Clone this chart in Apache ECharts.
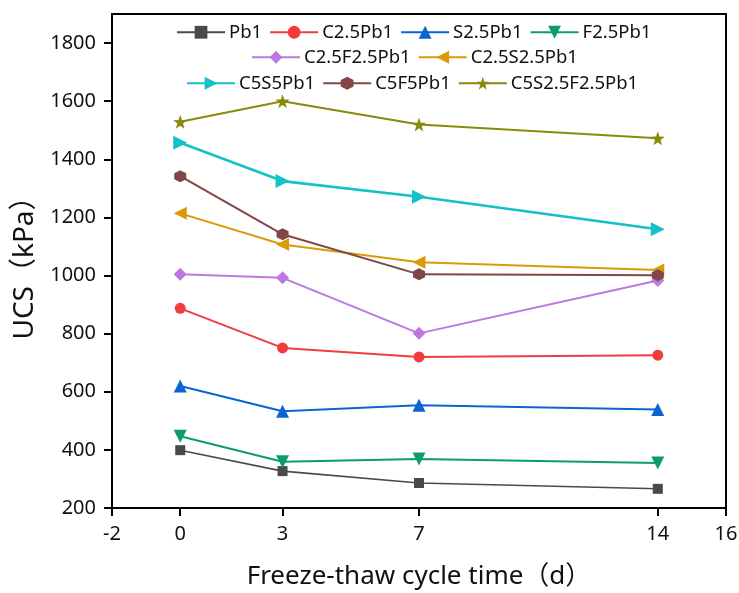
<!DOCTYPE html>
<html>
<head>
<meta charset="utf-8">
<script src="https://cdn.jsdelivr.net/npm/echarts@6/dist/echarts.min.js"></script>
<style>
  html, body { margin: 0; padding: 0; background: #fff; }
  #chart { width: 739px; height: 593px; }
</style>
</head>
<body>
<div id="chart"></div>
<script>
// freeze-thaw days and UCS values (kPa)
const days = [0, 3, 7, 14]
const xTicks = [-2, 0, 3, 7, 14, 16]
const yTicks = [200, 400, 600, 800, 1000, 1200, 1400, 1600, 1800]

const pb1 = [399, 327, 286, 266]
const c25pb1 = [887, 751, 720, 726]
const s25pb1 = [620, 533, 554, 539]
const f25pb1 = [447, 359, 369, 355]
const c25f25pb1 = [1004, 992, 801, 983]
const c25s25pb1 = [1214, 1107, 1046, 1019]
const c5s5pb1 = [1457, 1325, 1271, 1159]
const c5f5pb1 = [1342, 1142, 1004, 1001]
const c5s25f25pb1 = [1529, 1600, 1520, 1472]

const legendRows = [
  ['Pb1', 'C2.5Pb1', 'S2.5Pb1', 'F2.5Pb1'],
  ['C2.5F2.5Pb1', 'C2.5S2.5Pb1'],
  ['C5S5Pb1', 'C5F5Pb1', 'C5S2.5F2.5Pb1'],
]

const FONT = '"Noto Sans", "Noto Sans CJK SC", sans-serif'
const STAR = 'path://M0,-10 L2.35,-3.24 L9.51,-3.09 L3.8,1.24 L5.88,8.09 L0,4 L-5.88,8.09 L-3.8,1.24 L-9.51,-3.09 L-2.35,-3.24 Z'
const HEX = 'path://M0,-10 L8.66,-5 L8.66,5 L0,10 L-8.66,5 L-8.66,-5 Z'

const makeSeries = (name, values, color, symbol, size, rotate = 0, width = 2) => ({
  name,
  type: 'line',
  data: days.map((d, i) => [d, values[i]]),
  symbol,
  symbolSize: size,
  symbolRotate: rotate,
  itemStyle: { color },
  lineStyle: { color, width },
  emphasis: { disabled: true },
})

const series = [
  makeSeries('Pb1', pb1, '#4a4a4a', 'rect', 10, 0, 1.6),
  makeSeries('C2.5Pb1', c25pb1, '#f23c3c', 'circle', 11),
  makeSeries('S2.5Pb1', s25pb1, '#0a64d2', 'triangle', 13),
  makeSeries('F2.5Pb1', f25pb1, '#0c9e69', 'triangle', 13, 180),
  makeSeries('C2.5F2.5Pb1', c25f25pb1, '#bc78e0', 'diamond', 13),
  makeSeries('C2.5S2.5Pb1', c25s25pb1, '#d99b07', 'triangle', 13, 90),
  makeSeries('C5S5Pb1', c5s5pb1, '#12c2c9', 'triangle', 14, -90, 2.6),
  makeSeries('C5F5Pb1', c5f5pb1, '#834646', HEX, 12),
  makeSeries('C5S2.5F2.5Pb1', c5s25f25pb1, '#8a8a0a', STAR, 14),
]

const legendLefts = [176, 251, 186]
const legendTops = [23, 48, 74]

const legend = legendRows.map((row, i) => ({
  data: row,
  left: legendLefts[i],
  top: legendTops[i],
  padding: 0,
  itemGap: 7,
  itemWidth: 48,
  itemHeight: 16,
  selectedMode: false,
  textStyle: { fontFamily: FONT, fontSize: 18.5, color: '#111', padding: [0, 0, 0, -1] },
}))

const chart = echarts.init(document.getElementById('chart'))
chart.setOption({
  animation: false,
  backgroundColor: '#fff',
  legend,
  grid: {
    left: 112, right: 13, top: 14, bottom: 85,
    outerBoundsMode: 'none',
    show: true, borderColor: '#000', borderWidth: 2,
  },
  xAxis: {
    type: 'value',
    min: -2,
    max: 16,
    name: 'Freeze-thaw cycle time（d）',
    nameLocation: 'middle',
    nameGap: 56,
    nameTextStyle: { fontFamily: FONT, fontSize: 26, color: '#111' },
    axisLine: { onZero: false, lineStyle: { color: '#000', width: 2 } },
    axisTick: { show: true, customValues: xTicks, length: 8, lineStyle: { color: '#000', width: 2 } },
    axisLabel: { customValues: xTicks, margin: 16, fontFamily: FONT, fontSize: 20, color: '#111' },
    splitLine: { show: false },
  },
  yAxis: {
    type: 'value',
    min: 200,
    max: 1900,
    name: 'UCS（kPa）',
    nameLocation: 'middle',
    nameGap: 71,
    nameTextStyle: { fontFamily: FONT, fontSize: 28, color: '#111' },
    axisLine: { show: true, onZero: false, lineStyle: { color: '#000', width: 2 } },
    axisTick: { show: true, customValues: yTicks, length: 8, lineStyle: { color: '#000', width: 2 } },
    axisLabel: {
      customValues: yTicks, margin: 16, fontFamily: FONT, fontSize: 20, color: '#111',
      formatter: v => String(v),
    },
    splitLine: { show: false },
  },
  series,
})
</script>
</body>
</html>
